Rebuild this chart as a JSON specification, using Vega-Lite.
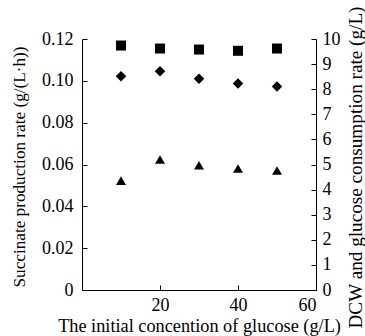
{
  "$schema": "https://vega.github.io/schema/vega-lite/v6.json",
  "autosize": "none",
  "width": 234,
  "height": 251,
  "padding": {"left": 82, "top": 39, "right": 49, "bottom": 46},
  "background": "white",
  "config": {
    "view": {"stroke": null},
    "font": "Liberation Serif",
    "axis": {
      "grid": false,
      "domainColor": "black",
      "tickColor": "black",
      "labelColor": "black",
      "titleColor": "black",
      "labelFont": "Liberation Serif",
      "titleFont": "Liberation Serif",
      "labelFontSize": 18,
      "titleFontSize": 18,
      "titleFontWeight": "normal",
      "tickSize": -5,
      "domainWidth": 1,
      "tickWidth": 1
    }
  },
  "data": {
    "values": [
      {"glucose": 10, "series": "Succinate production rate", "value": 0.1022},
      {"glucose": 20, "series": "Succinate production rate", "value": 0.1046},
      {"glucose": 30, "series": "Succinate production rate", "value": 0.1010},
      {"glucose": 40, "series": "Succinate production rate", "value": 0.0987},
      {"glucose": 50, "series": "Succinate production rate", "value": 0.0973},
      {"glucose": 10, "series": "Glucose consumption rate", "value": 9.74},
      {"glucose": 20, "series": "Glucose consumption rate", "value": 9.62},
      {"glucose": 30, "series": "Glucose consumption rate", "value": 9.58},
      {"glucose": 40, "series": "Glucose consumption rate", "value": 9.53},
      {"glucose": 50, "series": "Glucose consumption rate", "value": 9.62},
      {"glucose": 10, "series": "DCW", "value": 4.36},
      {"glucose": 20, "series": "DCW", "value": 5.20},
      {"glucose": 30, "series": "DCW", "value": 4.97},
      {"glucose": 40, "series": "DCW", "value": 4.84},
      {"glucose": 50, "series": "DCW", "value": 4.76}
    ]
  },
  "encoding": {
    "x": {
      "field": "glucose",
      "type": "quantitative",
      "scale": {"domain": [0, 60], "nice": false},
      "axis": {
        "values": [20, 40, 60],
        "title": "The initial concention of glucose (g/L)",
        "labelPadding": 11,
        "titleFontSize": 18.3,
        "titleBaseline": "alphabetic",
        "titleX": 117,
        "titleY": 41
      }
    }
  },
  "layer": [
    {
      "transform": [{"filter": "datum.series === 'Succinate production rate'"}],
      "mark": {"type": "point", "shape": "diamond", "filled": true, "color": "black", "opacity": 1, "size": 110},
      "encoding": {
        "y": {
          "field": "value",
          "type": "quantitative",
          "scale": {"domain": [0, 0.12], "nice": false},
          "axis": {
            "orient": "left",
            "values": [0, 0.02, 0.04, 0.06, 0.08, 0.1, 0.12],
            "labelExpr": "datum.value == 0 ? '0' : format(datum.value, '.2f')",
            "title": "Succinate production rate (g/(L·h))",
            "titleFontSize": 17.2,
            "titleAngle": 270,
            "titleBaseline": "alphabetic",
            "titleX": -57.5,
            "titleY": 127.5,
            "labelPadding": 14
          }
        }
      }
    },
    {
      "transform": [{"filter": "datum.series !== 'Succinate production rate'"}],
      "mark": {"type": "point", "filled": true, "color": "black", "opacity": 1, "size": 100},
      "encoding": {
        "shape": {
          "field": "series",
          "type": "nominal",
          "scale": {"domain": ["Glucose consumption rate", "DCW"], "range": ["square", "triangle-up"]},
          "legend": null
        },
        "y": {
          "field": "value",
          "type": "quantitative",
          "scale": {"domain": [0, 10], "nice": false},
          "axis": {
            "orient": "right",
            "values": [0, 1, 2, 3, 4, 5, 6, 7, 8, 9, 10],
            "title": "DCW and glucose consumption rate (g/L)",
            "titleFontSize": 19.2,
            "titleAngle": 270,
            "titleBaseline": "alphabetic",
            "titleX": 45.5,
            "titleY": 128,
            "labelPadding": 11
          }
        }
      }
    }
  ],
  "resolve": {"scale": {"y": "independent"}}
}
